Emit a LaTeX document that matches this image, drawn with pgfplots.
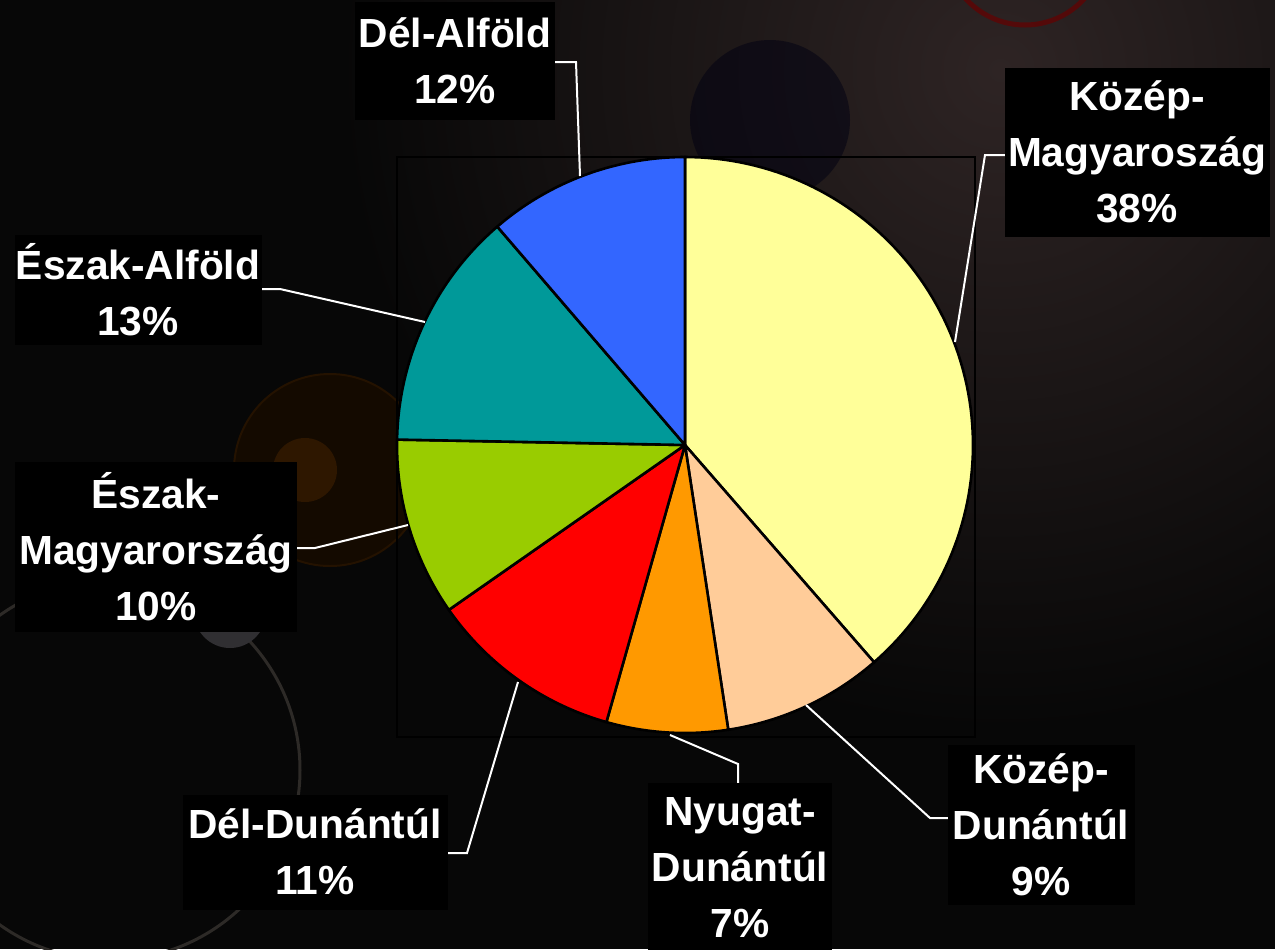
\documentclass[border=0pt]{standalone}
\usepackage{pgfplots}
\pgfplotsset{compat=1.18}
\usepackage{pgfplotstable}
\usepackage{fontspec}
\setmainfont{Liberation Sans}

\definecolor{bgdark}{HTML}{070707}
\definecolor{glow}{HTML}{2E2424}
\definecolor{kozmag}{HTML}{FFFF99}
\definecolor{kozdun}{HTML}{FFCC99}
\definecolor{nyudun}{HTML}{FF9900}
\definecolor{deldun}{HTML}{FF0000}
\definecolor{eszmag}{HTML}{99CC00}
\definecolor{eszalf}{HTML}{009999}
\definecolor{delalf}{HTML}{3366FF}

% shares (clockwise from 12 o'clock)
\pgfplotstableread{
share col
38.6 kozmag
9.0  kozdun
6.8  nyudun
10.9 deldun
10.0 eszmag
13.4 eszalf
11.3 delalf
}\pietable

\tikzset{
  lbl/.style={fill=black, text=white, align=center, inner sep=0pt,
    font=\bfseries\fontsize{20.35pt}{28pt}\selectfont},
  leader/.style={white, line width=1pt, mark=none},
}

\begin{document}
\begin{tikzpicture}
\useasboundingbox (0,0) rectangle (637.5pt,474.5pt);
\begin{axis}[
    at={(0,0)}, anchor=south west,
    width=637.5pt, height=474.5pt, scale only axis,
    xmin=0, xmax=1275, ymin=0, ymax=949, y dir=reverse,
    enlargelimits=false, hide axis,
  ]
  % background
  \fill[bgdark] (axis cs:0,0) rectangle (axis cs:1275,949);
  \shade[inner color=glow, outer color=bgdark] (axis cs:1000,70) circle[radius=330pt];
  \draw[color=red!40!black, opacity=0.7, line width=2.5pt] (axis cs:1025,-55) circle[radius=40pt];
  \fill[color=blue!7!black, opacity=0.5] (axis cs:770,120) circle[radius=40pt];
  \draw[color=olive!10!black, line width=1.5pt] (axis cs:110,770) circle[radius=95pt];
  \fill[color=orange!8!black] (axis cs:330,470) circle[radius=48pt];
  \draw[color=orange!14!black, line width=1pt] (axis cs:330,470) circle[radius=48pt];
  \fill[color=orange!18!black] (axis cs:305,470) circle[radius=16pt];
  \fill[color=cyan!8!black] (axis cs:230,612) circle[radius=18pt];
  \draw[black, line width=1pt] (axis cs:397,157) rectangle (axis cs:975,737);

  % slices
  \pgfmathsetmacro\start{0}
  \pgfplotsforeachungrouped \i in {0,...,6}{
    \pgfplotstablegetelem{\i}{share}\of\pietable
    \pgfmathsetmacro\stop{\start+3.6*\pgfplotsretval}
    \pgfplotstablegetelem{\i}{col}\of\pietable
    \edef\doslice{\noexpand\addplot[fill=\pgfplotsretval, draw=black,
      line width=1.3pt, line join=round, mark=none, domain=\start:\stop, samples=90]
      ({685+288*sin(x)},{445-288*cos(x)}) -- (axis cs:685,445) -- cycle;}
    \doslice
    \global\let\start\stop
  }

  % leader lines
  \addplot[leader] coordinates {(1005,155) (985,155) (955,342)};
  \addplot[leader] coordinates {(806,705) (930,818) (948,818)};
  \addplot[leader] coordinates {(670,735) (738,764) (738,788)};
  \addplot[leader] coordinates {(518,682) (467,853) (448,853)};
  \addplot[leader] coordinates {(408,525) (315,548) (297,548)};
  \addplot[leader] coordinates {(425,322) (280,289) (262,289)};
  \addplot[leader] coordinates {(580,176) (576,62) (555,62)};

  % labels
  \node[lbl, minimum width=132.5pt, minimum height=84.5pt] at (axis cs:1137,152) {Közép-\\Magyaroszág\\38\%};
  \node[lbl, minimum width=93.5pt, minimum height=80pt] at (axis cs:1041,825) {Közép-\\Dunántúl\\9\%};
  \node[lbl, minimum width=92pt, minimum height=85pt] at (axis cs:740,868) {Nyugat-\\Dunántúl\\7\%};
  \node[lbl, minimum width=132.5pt, minimum height=57.5pt] at (axis cs:315,852) {Dél-Dunántúl\\11\%};
  \node[lbl, minimum width=141pt, minimum height=85pt] at (axis cs:156,547) {Észak-\\Magyarország\\10\%};
  \node[lbl, minimum width=123.5pt, minimum height=55pt] at (axis cs:138,290) {Észak-Alföld\\13\%};
  \node[lbl, minimum width=100pt, minimum height=59pt] at (axis cs:455,61) {Dél-Alföld\\12\%};
\end{axis}
\end{tikzpicture}
\end{document}
